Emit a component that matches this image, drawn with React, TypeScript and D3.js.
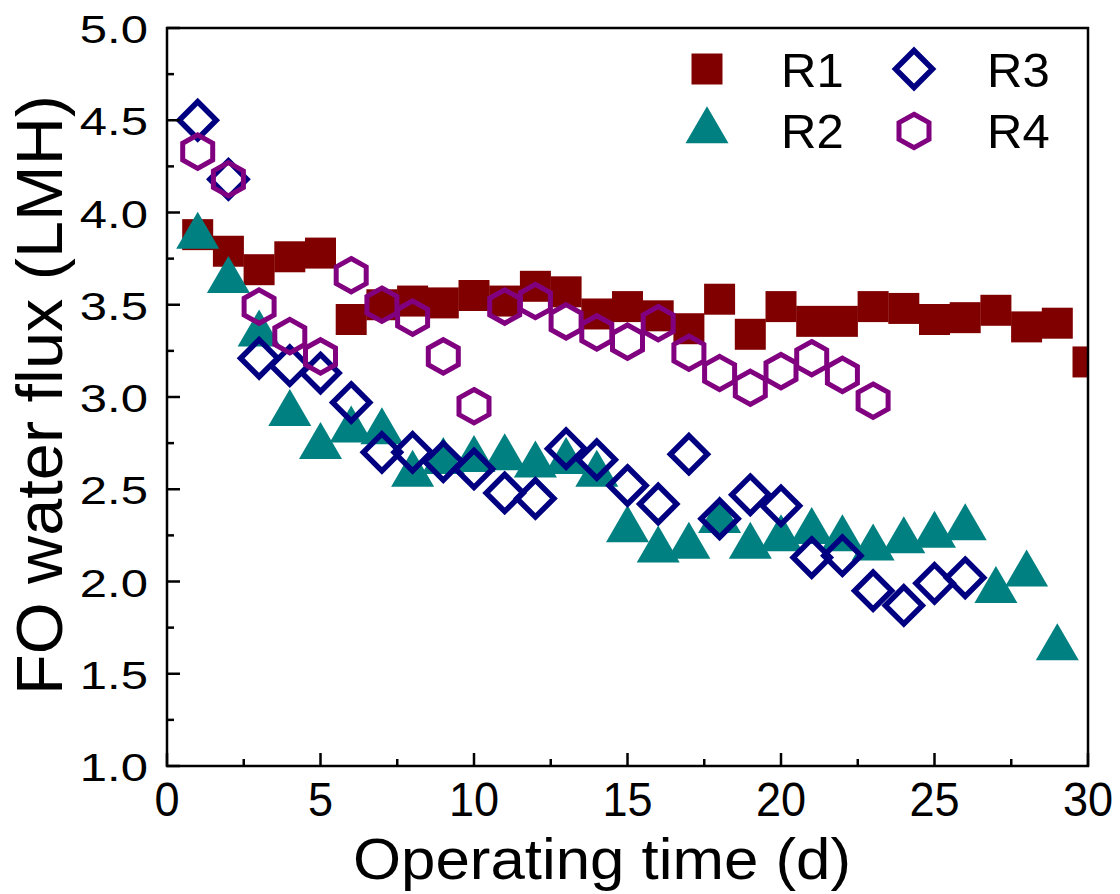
import React from 'react';
import * as d3 from 'd3';

// operating day of each measurement
const days = [1, 2, 3, 4, 5, 6, 7, 8, 9, 10, 11, 12, 13, 14, 15, 16, 17, 18, 19, 20, 21, 22, 23, 24, 25, 26, 27, 28, 29, 30];

// FO water flux (LMH) per reactor
const r1Flux = [3.88, 3.79, 3.69, 3.76, 3.78, 3.42, 3.50, 3.52, 3.51, 3.55, 3.52, 3.60, 3.57, 3.45, 3.49, 3.44, 3.37, 3.53, 3.34, 3.49, 3.41, 3.41, 3.49, 3.48, 3.42, 3.43, 3.47, 3.38, 3.40, 3.19];
const r2Flux = [3.87, 3.63, 3.34, 2.91, 2.73, 2.82, 2.81, 2.58, 2.65, 2.66, 2.67, 2.63, 2.65, 2.58, 2.28, 2.17, 2.19, 2.33, 2.19, 2.23, 2.27, 2.23, 2.18, 2.22, 2.25, 2.29, 1.95, 2.04, 1.64];
const r3Flux = [4.50, 4.18, 3.21, 3.17, 3.13, 2.97, 2.70, 2.70, 2.65, 2.61, 2.48, 2.45, 2.72, 2.66, 2.52, 2.42, 2.69, 2.34, 2.47, 2.41, 2.13, 2.14, 1.95, 1.87, 1.99, 2.02];
const r4Flux = [4.33, 4.18, 3.49, 3.33, 3.22, 3.66, 3.50, 3.43, 3.22, 2.95, 3.49, 3.52, 3.41, 3.35, 3.30, 3.40, 3.24, 3.13, 3.05, 3.14, 3.21, 3.12, 2.98];

const seriesNames = ['R1', 'R2', 'R3', 'R4'];
const xTicks = [0, 5, 10, 15, 20, 25, 30];
const xMinor = [2.5, 7.5, 12.5, 17.5, 22.5, 27.5];
const yTicks = [1.0, 1.5, 2.0, 2.5, 3.0, 3.5, 4.0, 4.5, 5.0];
const yMinor = [1.25, 1.75, 2.25, 2.75, 3.25, 3.75, 4.25, 4.75];

const font = '"Liberation Sans", Arial, sans-serif';

const shapes = {
  square: { d: 'M-15.5,-15.5h31v31h-31z', fill: '#800000', stroke: 'none', sw: 0 },
  triangle: { d: 'M0,-24.7L21.5,12.3L-21.5,12.3Z', fill: '#008080', stroke: 'none', sw: 0 },
  diamond: { d: 'M0,-18.5L18.5,0L0,18.5L-18.5,0Z', fill: 'none', stroke: '#000080', sw: 5.5 },
  hexagon: { d: 'M0,-16.7L15,-8.35L15,8.35L0,16.7L-15,8.35L-15,-8.35Z', fill: 'none', stroke: '#800080', sw: 5 },
};
const shapeOrder = ['square', 'triangle', 'diamond', 'hexagon'];

export default function App() {
  const w = 1120, h = 894;
  const x = d3.scaleLinear().domain([0, 30]).range([167, 1088]);
  const y = d3.scaleLinear().domain([1, 5]).range([766, 28]);
  const fmt = d3.format('.1f');

  const series = [r1Flux, r2Flux, r3Flux, r4Flux];

  const marker = (kind, key, cx, cy) => {
    const s = shapes[kind];
    return (
      <path key={key} d={s.d} transform={`translate(${cx},${cy})`}
        fill={s.fill} stroke={s.stroke} strokeWidth={s.sw} strokeLinejoin="miter" />
    );
  };

  const [x0, x1] = x.range();
  const [y0, y1] = y.range();

  return (
    <svg width={w} height={h} style={{ position: 'absolute', left: 0, top: 0, background: '#fff' }}
      fontFamily={font}>
      <defs>
        <clipPath id="plotClip">
          <rect x={x0} y={y1} width={x1 - x0} height={y0 - y1} />
        </clipPath>
      </defs>

      {/* data */}
      <g clipPath="url(#plotClip)">
        {series.map((vals, si) => (
          <g key={seriesNames[si]}>
            {vals.map((v, i) => marker(shapeOrder[si], i, x(days[i]), y(v)))}
          </g>
        ))}
      </g>

      {/* frame */}
      <rect x={x0} y={y1} width={x1 - x0} height={y0 - y1} fill="none" stroke="#000" strokeWidth={2.5} />

      {/* x ticks */}
      {xTicks.map(t => (
        <g key={'xt' + t}>
          <line x1={x(t)} x2={x(t)} y1={y0} y2={y0 - 13} stroke="#000" strokeWidth={2.5} />
          <text transform={`translate(${x(t)},816) scale(0.96,1.03)`} textAnchor="middle" fontSize={47}>{t}</text>
        </g>
      ))}
      {xMinor.map(t => (
        <line key={'xm' + t} x1={x(t)} x2={x(t)} y1={y0} y2={y0 - 7} stroke="#000" strokeWidth={2.5} />
      ))}

      {/* y ticks */}
      {yTicks.map(t => (
        <g key={'yt' + t}>
          <line x1={x0} x2={x0 + 13} y1={y(t)} y2={y(t)} stroke="#000" strokeWidth={2.5} />
          <text transform={`translate(148,${y(t) + 1.5}) scale(1,0.78)`} textAnchor="end" dy="0.358em" fontSize={49}>
            {fmt(t)}
          </text>
        </g>
      ))}
      {yMinor.map(t => (
        <line key={'ym' + t} x1={x0} x2={x0 + 7} y1={y(t)} y2={y(t)} stroke="#000" strokeWidth={2.5} />
      ))}

      {/* axis titles */}
      <text x={602} y={879} textAnchor="middle" fontSize={58}
        textLength={498} lengthAdjust="spacingAndGlyphs">Operating time (d)</text>
      <text transform="translate(62,395) rotate(-90)" textAnchor="middle" fontSize={65}
        textLength={600} lengthAdjust="spacingAndGlyphs">FO water flux (LMH)</text>

      {/* legend */}
      {seriesNames.map((name, si) => {
        const col = Math.floor(si / 2);
        const row = si % 2;
        const mx = col === 0 ? 707 : 914;
        const my = row === 0 ? 69 : 131;
        return (
          <g key={'lg' + name}>
            {marker(shapeOrder[si], 'm', mx, my)}
            <text x={col === 0 ? 781 : 987} y={row === 0 ? 87 : 148} fontSize={49}>{name}</text>
          </g>
        );
      })}
    </svg>
  );
}
